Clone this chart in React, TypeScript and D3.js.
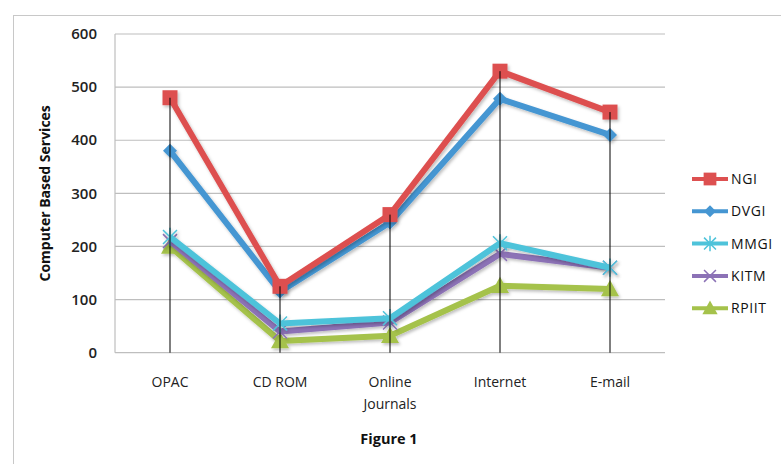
import React from "react";
import * as d3 from "d3";

const W = 781;
const H = 464;

const categories = ["OPAC", "CD ROM", "Online Journals", "Internet", "E-mail"];
const ngi = [480, 125, 260, 530, 453];
const dvgi = [380, 115, 245, 478, 410];
const mmgi = [218, 55, 65, 206, 160];
const kitm = [210, 40, 57, 186, 160];
const rpiit = [200, 22, 32, 126, 120];
const yTicks = [0, 100, 200, 300, 400, 500, 600];

const seriesList = [
  { name: "NGI", values: ngi, color: "#DD5050", marker: "square" },
  { name: "DVGI", values: dvgi, color: "#4596D2", marker: "diamond" },
  { name: "MMGI", values: mmgi, color: "#4EC3DA", marker: "star" },
  { name: "KITM", values: kitm, color: "#8C72B6", marker: "x" },
  { name: "RPIIT", values: rpiit, color: "#A5C24B", marker: "triangle" },
];

const FONT = "'Open Sans', Lato, sans-serif";

function Marker({ type, color, x, y, s = 1 }: { type: string; color: string; x: number; y: number; s?: number }) {
  if (type === "square") {
    const h = 7.5 * s;
    return <rect x={x - h} y={y - h} width={2 * h} height={2 * h} fill={color} />;
  }
  if (type === "diamond") {
    const h = 7 * s;
    return <path d={`M${x},${y - h}L${x + h},${y}L${x},${y + h}L${x - h},${y}Z`} fill={color} />;
  }
  if (type === "triangle") {
    const h = 9 * s;
    return <path d={`M${x},${y - h}L${x + h},${y + h * 0.8}L${x - h},${y + h * 0.8}Z`} fill={color} />;
  }
  const h = 7 * s;
  if (type === "x") {
    return (
      <path
        d={`M${x - h},${y - h}L${x + h},${y + h}M${x - h},${y + h}L${x + h},${y - h}`}
        stroke={color}
        strokeWidth={1.5}
      />
    );
  }
  // star: x with a vertical stroke
  return (
    <path
      d={`M${x - h},${y - h}L${x + h},${y + h}M${x - h},${y + h}L${x + h},${y - h}M${x},${y - h * 1.3}L${x},${y + h * 1.3}`}
      stroke={color}
      strokeWidth={1.5}
    />
  );
}

export default function App() {
  const x = d3.scaleBand().domain(categories).range([115, 665]);
  const y = d3.scaleLinear().domain([0, 600]).range([352.7, 34]);
  const cx = (c: string) => (x(c) as number) + x.bandwidth() / 2;

  const line = d3
    .line<number>()
    .x((_, i) => cx(categories[i]))
    .y((d) => y(d));

  const maxVals = categories.map((_, i) => d3.max(seriesList, (s) => s.values[i]) as number);

  return (
    <div style={{ position: "absolute", left: 0, top: 0 }}>
      <svg width={W} height={H} style={{ display: "block", background: "#fff" }}>
        <defs>
          <filter id="shadow" x="-10%" y="-10%" width="120%" height="130%">
            <feDropShadow dx="1.5" dy="2" stdDeviation="1.5" floodColor="#000" floodOpacity="0.25" />
          </filter>
        </defs>
        {/* outer frame */}
        <rect x={13.5} y={15.5} width={W} height={H} fill="none" stroke="#C8C8C8" strokeWidth={1} />

        {/* gridlines */}
        {yTicks.map((t) => (
          <line key={t} x1={115} x2={665} y1={y(t)} y2={y(t)} stroke="#BEBEBE" strokeWidth={1.2} />
        ))}
        <line x1={115} x2={115} y1={y(600)} y2={y(0)} stroke="#BEBEBE" strokeWidth={1.2} />

        {yTicks.map((t) => (
          <text
            key={t}
            x={97}
            y={y(t)}
            dy="0.35em"
            textAnchor="end"
            fontFamily={FONT}
            fontSize={15}
            fontWeight={600}
            fill="#222"
          >
            {t}
          </text>
        ))}

        <text
          transform={`translate(50,${(y(0) + y(600)) / 2}) rotate(-90)`}
          textAnchor="middle"
          fontFamily={FONT}
          fontSize={14}
          fontWeight="bold"
          fill="#111"
        >
          Computer Based Services
        </text>

        {categories.map((c) => {
          const parts = c === "Online Journals" ? ["Online", "Journals"] : [c];
          return (
            <text key={c} x={cx(c)} y={387} textAnchor="middle" fontFamily={FONT} fontSize={14} fill="#222">
              {parts.map((p, i) => (
                <tspan key={i} x={cx(c)} dy={i === 0 ? 0 : 22}>
                  {p}
                </tspan>
              ))}
            </text>
          );
        })}

        <text x={389} y={444} textAnchor="middle" fontFamily={FONT} fontSize={14.5} fontWeight="bold" fill="#111">
          Figure 1
        </text>

        {/* series */}
        {seriesList
          .slice()
          .reverse()
          .map((s) => (
            <g key={s.name} filter="url(#shadow)">
              <path d={line(s.values) || ""} fill="none" stroke={s.color} strokeWidth={6} strokeLinejoin="round" />
              {s.values.map((v, i) => (
                <Marker key={i} type={s.marker} color={s.color} x={cx(categories[i])} y={y(v)} />
              ))}
            </g>
          ))}

        {/* drop lines */}
        {categories.map((c, i) => (
          <line key={c} x1={cx(c)} x2={cx(c)} y1={y(maxVals[i])} y2={y(0)} stroke="#000" strokeWidth={1} />
        ))}

        {/* legend */}
        {seriesList.map((s, i) => {
          const ly = 179 + i * 32.3;
          return (
            <g key={s.name}>
              <line x1={692} x2={728} y1={ly} y2={ly} stroke={s.color} strokeWidth={4} />
              <Marker type={s.marker} color={s.color} x={710} y={ly} s={0.85} />
              <text x={731} y={ly} dy="0.35em" fontFamily={FONT} fontSize={14} fill="#111" letterSpacing={0.6}>
                {s.name}
              </text>
            </g>
          );
        })}
      </svg>
    </div>
  );
}
